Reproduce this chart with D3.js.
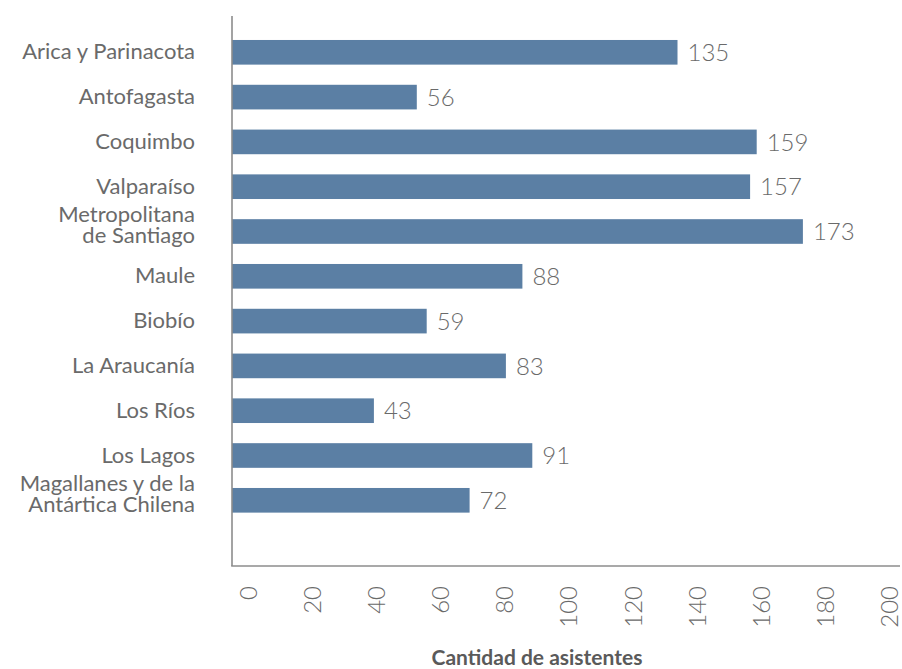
<!DOCTYPE html>
<html>
<head>
<meta charset="utf-8">
<script src="https://cdn.jsdelivr.net/npm/d3@7"></script>
<style>
  html, body { margin: 0; padding: 0; background: #fff; }
  svg { display: block; }
</style>
</head>
<body>
<svg id="chart" width="902" height="669"></svg>
<script>
// ---- data ----
const categories = [
  "Arica y Parinacota",
  "Antofagasta",
  "Coquimbo",
  "Valparaíso",
  "Metropolitana de Santiago",
  "Maule",
  "Biobío",
  "La Araucanía",
  "Los Ríos",
  "Los Lagos",
  "Magallanes y de la Antártica Chilena"
];
const categoryLines = [
  ["Arica y Parinacota"],
  ["Antofagasta"],
  ["Coquimbo"],
  ["Valparaíso"],
  ["Metropolitana", "de Santiago"],
  ["Maule"],
  ["Biobío"],
  ["La Araucanía"],
  ["Los Ríos"],
  ["Los Lagos"],
  ["Magallanes y de la", "Antártica Chilena"]
];
const values = [135, 56, 159, 157, 173, 88, 59, 83, 43, 91, 72];
const xTicks = [0, 20, 40, 60, 80, 100, 120, 140, 160, 180, 200];
const xTitle = "Cantidad de asistentes";

// ---- layout ----
const W = 902, H = 669;
const axisX = 232, axisTop = 16, axisBottom = 566;
const svg = d3.select("#chart");

const x = d3.scaleLinear().domain([0, 200]).range([axisX, 892]);
const xLabelScale = d3.scaleLinear().domain([0, 200]).range([248, 889]);
const y = d3.scaleBand().domain(categories).range([29.9, 522.7])
  .paddingInner(0.45).paddingOuter(0.225);

const barColor = "#5b7fa4";
const textColor = "#6a6a6a";
const axisColor = "#8c8c8c";
const catFont = "Lato, 'Open Sans', sans-serif";

// bars
svg.append("g").selectAll("rect")
  .data(categories)
  .join("rect")
  .attr("x", x(0))
  .attr("y", d => y(d))
  .attr("width", (d, i) => x(values[i]) - x(0))
  .attr("height", y.bandwidth())
  .attr("fill", barColor);

// value labels
svg.append("g").selectAll("text")
  .data(categories)
  .join("text")
  .attr("x", (d, i) => x(values[i]) + 10)
  .attr("y", d => y(d) + y.bandwidth() / 2)
  .attr("dy", "0.36em")
  .attr("font-family", catFont)
  .attr("font-weight", 300)
  .attr("font-size", 24)
  .attr("fill", "#6a6a6a")
  .text((d, i) => values[i]);

// category labels
const catG = svg.append("g");
categories.forEach((c, i) => {
  const lines = categoryLines[i];
  const cy = y(c) + y.bandwidth() / 2;
  const t = catG.append("text")
    .attr("text-anchor", "end")
    .attr("font-family", catFont)
    .attr("font-size", 22)
    .attr("fill", textColor);
  if (lines.length === 1) {
    t.append("tspan").attr("x", 195).attr("y", cy + 7).text(lines[0]);
  } else {
    t.append("tspan").attr("x", 195).attr("y", cy - 9.5).text(lines[0]);
    t.append("tspan").attr("x", 195).attr("y", cy + 11.5).text(lines[1]);
  }
});

// axis lines
svg.append("line")
  .attr("x1", axisX).attr("x2", axisX)
  .attr("y1", axisTop).attr("y2", axisBottom)
  .attr("stroke", axisColor).attr("stroke-width", 1.6);
svg.append("line")
  .attr("x1", axisX - 0.8).attr("x2", 900)
  .attr("y1", axisBottom).attr("y2", axisBottom)
  .attr("stroke", axisColor).attr("stroke-width", 1.6);

// x tick labels (rotated)
const xAxis = d3.axisBottom(xLabelScale).tickValues(xTicks).tickSize(0).tickPadding(0);
const gx = svg.append("g").attr("transform", `translate(0, 586)`).call(xAxis);
gx.select(".domain").remove();
gx.selectAll(".tick text")
  .attr("transform", "rotate(-90)")
  .attr("text-anchor", "end")
  .attr("x", 0)
  .attr("y", 0)
  .attr("dy", "0.35em")
  .attr("font-family", catFont)
  .attr("font-weight", 300)
  .attr("font-size", 24)
  .attr("fill", "#6a6a6a");

// axis title
svg.append("text")
  .attr("x", 537)
  .attr("y", 665)
  .attr("text-anchor", "middle")
  .attr("font-family", catFont)
  .attr("font-weight", 700)
  .attr("font-size", 21)
  .attr("fill", "#5a5a5a")
  .text(xTitle);
</script>
</body>
</html>
